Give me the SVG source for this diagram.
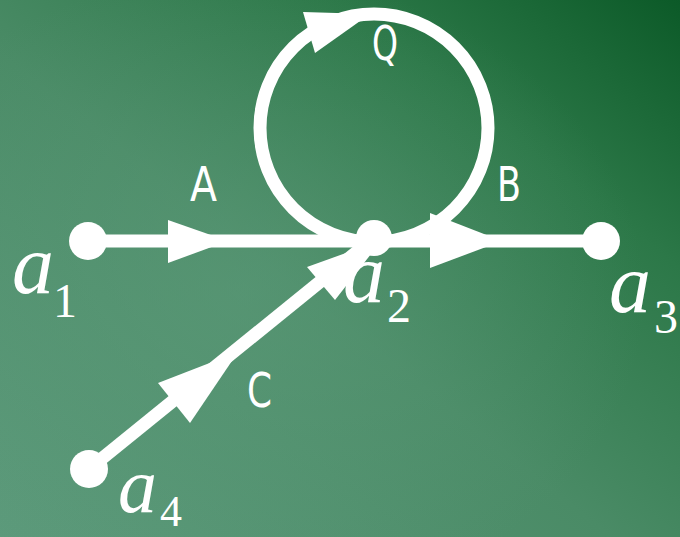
<svg xmlns="http://www.w3.org/2000/svg" width="680" height="537" viewBox="0 0 680 537">
<defs>
<linearGradient id="bg" x1="1" y1="0" x2="0" y2="1">
<stop offset="0" stop-color="#0c5a28"/>
<stop offset="0.25" stop-color="#2c7848"/>
<stop offset="0.55" stop-color="#4a8b66"/>
<stop offset="1" stop-color="#5c9a7b"/>
</linearGradient>
<radialGradient id="glow" cx="0.35" cy="0.55" r="0.6">
<stop offset="0" stop-color="#5f9c7c" stop-opacity="0.5"/>
<stop offset="1" stop-color="#5f9c7c" stop-opacity="0"/>
</radialGradient>
<style>
.edge{fill:none;stroke:#fff;stroke-width:13}
.head{fill:#fff}
.node{fill:#fff}
.lbl{font-family:"DejaVu Sans","Liberation Sans",sans-serif;font-size:48px;fill:#fff}
.var{font-family:"Liberation Serif","Times New Roman",serif;font-style:italic;font-size:84px;fill:#fff}
.sub{font-family:"Liberation Serif","Times New Roman",serif;font-size:48px;fill:#fff}
</style>
</defs>
<rect width="680" height="537" fill="url(#bg)"/>
<rect width="680" height="537" fill="url(#glow)"/>
<g id="connectors">
<line class="edge" x1="88" y1="241" x2="602" y2="241"/>
<line class="edge" x1="89" y1="469" x2="374" y2="238"/>
<circle class="edge" cx="374" cy="128" r="114"/>
<polygon class="head" points="168,220 168,263 228,241"/>
<polygon class="head" points="430,213 430,268 502,241"/>
<polygon class="head" points="158,383 190,423 238,352"/>
<polygon class="head" points="307,267 335,300 382,240"/>
<polygon class="head" points="303,12 315,53 370,14"/>
<text class="lbl" x="190" y="201" textLength="27" lengthAdjust="spacingAndGlyphs">A</text>
<text class="lbl" x="497" y="201" textLength="24" lengthAdjust="spacingAndGlyphs">B</text>
<text class="lbl" x="372" y="60" textLength="26" lengthAdjust="spacingAndGlyphs">Q</text>
<text class="lbl" x="247" y="407" textLength="25" lengthAdjust="spacingAndGlyphs">C</text>
</g>
<g id="a1">
<circle class="node" cx="88" cy="241" r="19"/>
<text class="var" x="12" y="293">a</text><text class="sub" x="53" y="317">1</text>
</g>
<g id="a2">
<circle class="node" cx="374" cy="238" r="18"/>
<text class="var" x="343" y="302">a</text><text class="sub" x="387" y="322">2</text>
</g>
<g id="a3">
<circle class="node" cx="601" cy="241" r="19"/>
<text class="var" x="609" y="312">a</text><text class="sub" x="654" y="333">3</text>
</g>
<g id="a4">
<circle class="node" cx="89" cy="469" r="19"/>
<text class="var" x="118" y="512" style="font-size:78px">a</text><text class="sub" x="160" y="526" style="font-size:44px">4</text>
</g>
</svg>
